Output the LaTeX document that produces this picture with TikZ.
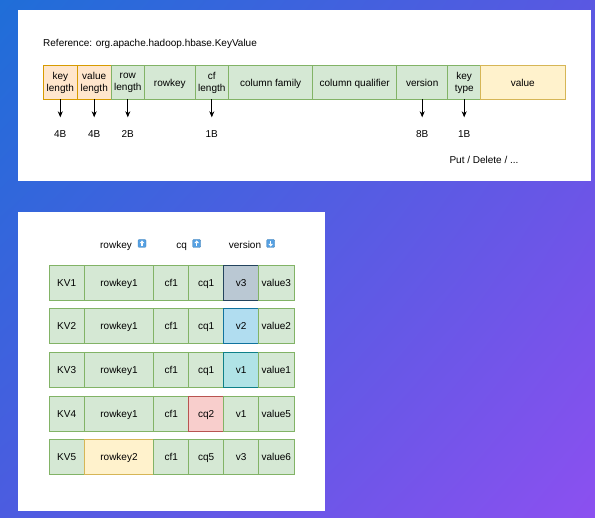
\documentclass[tikz,border=0pt]{standalone}
\usepackage{fontspec}
\setmainfont{Liberation Sans}
\usetikzlibrary{positioning, arrows.meta, shadings}

\definecolor{bgblue}{HTML}{1F6ED8}
\definecolor{bgmid}{HTML}{5A58E2}
\definecolor{bgviolet}{HTML}{4C5CE0}
\definecolor{bgpurple}{HTML}{8C50F0}
\definecolor{grfill}{HTML}{D5E8D4}
\definecolor{grline}{HTML}{82B366}
\definecolor{orfill}{HTML}{FFE6CC}
\definecolor{orline}{HTML}{D79B00}
\definecolor{yefill}{HTML}{FFF2CC}
\definecolor{yeline}{HTML}{D6B656}
\definecolor{gyfill}{HTML}{BAC8D3}
\definecolor{gyline}{HTML}{23445D}
\definecolor{blfill}{HTML}{B1DDF0}
\definecolor{blline}{HTML}{10739E}
\definecolor{tqfill}{HTML}{B0E3E6}
\definecolor{tqline}{HTML}{0E8088}
\definecolor{rdfill}{HTML}{F8CECC}
\definecolor{rdline}{HTML}{B85450}
\definecolor{iconblue}{HTML}{55A0E2}

% strut that keeps the letters in the middle of a cell
\newcommand\cstrut{\rule[-2.2pt]{0pt}{11.6pt}}

\begin{document}
\begin{tikzpicture}[x=1pt, y=-1pt, font=\fontsize{10}{12}\selectfont,
  cell/.style={draw=grline, fill=grfill, line width=.6pt, outer sep=0pt, inner sep=0pt,
    minimum height=33.5, execute at begin node=\cstrut},
  twoline/.style={align=center},
  kvcell/.style={cell, minimum height=35},
  orcell/.style={draw=orline, fill=orfill},
  yecell/.style={draw=yeline, fill=yefill},
  size/.style={inner sep=0pt, execute at begin node=\cstrut},
  head/.style={inner sep=0pt, execute at begin node=\cstrut},
  sizearr/.style={-{Stealth[length=6pt, width=5pt]}, line width=.7pt, shorten >=11pt},
  icon/.style={fill=iconblue, draw=iconblue!80!black, line width=.3pt, rounded corners=1pt,
    minimum size=8, inner sep=0pt}]

% background and panels
\shade[upper left=bgblue, upper right=bgmid, lower left=bgviolet, lower right=bgpurple]
  (0,0) rectangle (595,518);
\fill[white] (18,10) rectangle (590.5,181);
\fill[white] (18,212) rectangle (324.5,511.5);

% KeyValue layout
\node[head, anchor=west] (title) at (43,43) {Reference: org.apache.hadoop.hbase.KeyValue};

\node[cell, orcell, twoline, minimum width=34] (kl) at (60.3,82.5) {key\\\cstrut length};
\node[cell, orcell, twoline, minimum width=33.7] (vl) at (94.2,82.5) {value\\\cstrut length};
\node[cell, twoline, minimum width=33.7] (rl) at (127.8,82.5) {row\\\cstrut length};
\node[cell, minimum width=50.3] (rk) at (169.8,82.5) {rowkey};
\node[cell, twoline, minimum width=33.7] (cfl) at (211.8,82.5) {cf\\\cstrut length};
\node[cell, minimum width=84] (cfam) at (270.7,82.5) {column family};
\node[cell, minimum width=84] (cq) at (354.7,82.5) {column qualifier};
\node[cell, minimum width=51] (ver) at (422.2,82.5) {version};
\node[cell, twoline, minimum width=33] (kt) at (464.2,82.5) {key\\\cstrut type};
\node[cell, yecell, minimum width=84.3] (val) at (522.8,82.5) {value};

\node[size] (klB) at (60.3,134.3) {4B};
\node[size] (vlB) at (94.2,134.3) {4B};
\node[size] (rlB) at (127.8,134.3) {2B};
\node[size] (cflB) at (211.8,134.3) {1B};
\node[size] (verB) at (422.2,134.3) {8B};
\node[size] (ktB) at (464.2,134.3) {1B};
\node[head] (kinds) at (484,160) {Put / Delete / ...};

\draw[sizearr] (kl) -- (klB);
\draw[sizearr] (vl) -- (vlB);
\draw[sizearr] (rl) -- (rlB);
\draw[sizearr] (cfl) -- (cflB);
\draw[sizearr] (ver) -- (verB);
\draw[sizearr] (kt) -- (ktB);

% sort order
\node[head] (rkHead) at (116,244.7) {rowkey};
\node[head] (cqHead) at (181.7,244.7) {cq};
\node[head] (verHead) at (245,244.7) {version};
\node[icon] (rkUp) at (142,243.5) {};
\node[icon] (cqUp) at (196.7,243.5) {};
\node[icon] (verDown) at (270.7,243.5) {};
\draw[white, line width=1.1pt, -{Triangle[length=2.6pt, width=4.4pt]}, shorten <=1.3pt, shorten >=1.1pt] (rkUp.south) -- (rkUp.north);
\draw[white, line width=1.1pt, -{Triangle[length=2.6pt, width=4.4pt]}, shorten <=1.3pt, shorten >=1.1pt] (cqUp.south) -- (cqUp.north);
\draw[white, line width=1.1pt, -{Triangle[length=2.6pt, width=4.4pt]}, shorten <=1.3pt, shorten >=1.1pt] (verDown.north) -- (verDown.south);

% sorted KeyValues
\node[kvcell, minimum width=35.3] (kv1) at (66.7,282.5) {KV1};
\node[kvcell, minimum width=69.4] (rk1) at (119,282.5) {rowkey1};
\node[kvcell, minimum width=35] (cf1) at (171.2,282.5) {cf1};
\node[kvcell, minimum width=35] (cq1) at (206.2,282.5) {cq1};
\node[kvcell, draw=gyline, fill=gyfill, minimum width=35] (v1) at (241.2,282.5) {v3};
\node[kvcell, minimum width=35.3] (val1) at (276.3,282.5) {value3};

\node[kvcell, minimum width=35.3] (kv2) at (66.7,325.8) {KV2};
\node[kvcell, minimum width=69.4] (rk2) at (119,325.8) {rowkey1};
\node[kvcell, minimum width=35] (cf2) at (171.2,325.8) {cf1};
\node[kvcell, minimum width=35] (cq2) at (206.2,325.8) {cq1};
\node[kvcell, draw=blline, fill=blfill, minimum width=35] (v2) at (241.2,325.8) {v2};
\node[kvcell, minimum width=35.3] (val2) at (276.3,325.8) {value2};

\node[kvcell, minimum width=35.3] (kv3) at (66.7,369.5) {KV3};
\node[kvcell, minimum width=69.4] (rk3) at (119,369.5) {rowkey1};
\node[kvcell, minimum width=35] (cf3) at (171.2,369.5) {cf1};
\node[kvcell, minimum width=35] (cq3) at (206.2,369.5) {cq1};
\node[kvcell, draw=tqline, fill=tqfill, minimum width=35] (v3) at (241.2,369.5) {v1};
\node[kvcell, minimum width=35.3] (val3) at (276.3,369.5) {value1};

\node[kvcell, minimum width=35.3] (kv4) at (66.7,413.5) {KV4};
\node[kvcell, minimum width=69.4] (rk4) at (119,413.5) {rowkey1};
\node[kvcell, minimum width=35] (cf4) at (171.2,413.5) {cf1};
\node[kvcell, draw=rdline, fill=rdfill, minimum width=35] (cq4) at (206.2,413.5) {cq2};
\node[kvcell, minimum width=35] (v4) at (241.2,413.5) {v1};
\node[kvcell, minimum width=35.3] (val4) at (276.3,413.5) {value5};

\node[kvcell, minimum width=35.3] (kv5) at (66.7,456.8) {KV5};
\node[kvcell, yecell, minimum width=69.4] (rk5) at (119,456.8) {rowkey2};
\node[kvcell, minimum width=35] (cf5) at (171.2,456.8) {cf1};
\node[kvcell, minimum width=35] (cq5) at (206.2,456.8) {cq5};
\node[kvcell, minimum width=35] (v5) at (241.2,456.8) {v3};
\node[kvcell, minimum width=35.3] (val5) at (276.3,456.8) {value6};
\end{tikzpicture}
\end{document}
